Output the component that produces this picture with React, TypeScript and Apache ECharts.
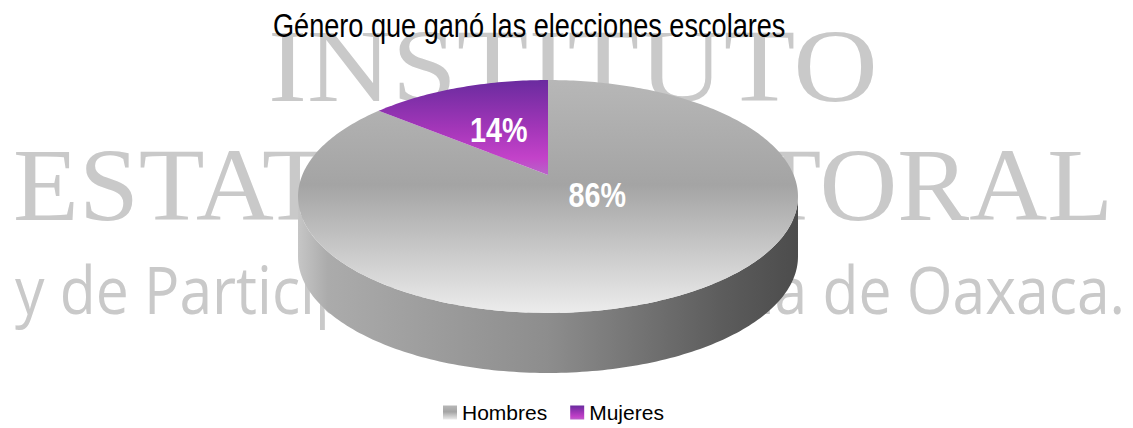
import React, { useEffect, useRef } from 'react';
import * as echarts from 'echarts';

// ---- data ----
const categories = ['Hombres', 'Mujeres'];
const values = [86, 14];
const titleText = 'Género que ganó las elecciones escolares';
const watermarkLines = ['INSTITUTO', 'ESTATAL ELECTORAL', 'y de Participación Ciudadana de Oaxaca.'];

// ---- layout / style constants ----
const SANS = '"Liberation Sans", Arial, sans-serif';
const CX = 548; // pie centre x
const CY = 175; // projected centre (tip) y
const R = 245.7; // horizontal radius
const B = 112.5; // vertical radius factor
const P = -0.1845; // perspective factor
const H = 60; // thickness
const NARROW_SCALE = 0.82;

const topFills = [
  [
    [0, '#b7b7b7'],
    [0.45, '#a4a4a4'],
    [1, '#ececec'],
  ],
  [
    [0, '#6a2b9f'],
    [0.5, '#a236b8'],
    [0.82, '#c342c9'],
    [1, '#b865c8'],
  ],
];
const sideStops = [
  [0, '#c6c6c6'],
  [0.06, '#ababab'],
  [0.5, '#8d8d8d'],
  [0.85, '#5c5c5c'],
  [1, '#4c4c4c'],
];

function grad(stops: any[], horizontal = false) {
  return new echarts.graphic.LinearGradient(
    0,
    0,
    horizontal ? 1 : 0,
    horizontal ? 0 : 1,
    stops.map((s) => ({ offset: s[0], color: s[1] }))
  );
}

function proj(deg: number, f = 1): number[] {
  const t = (deg * Math.PI) / 180;
  const u = Math.sin(t) * f;
  const v = -Math.cos(t) * f;
  const d = 1 + P * v;
  return [CX + (R * u) / d, CY + (B * v) / d];
}

function arc(a0: number, a1: number): number[][] {
  const pts: number[][] = [];
  const n = Math.max(2, Math.ceil(Math.abs(a1 - a0)));
  for (let i = 0; i <= n; i++) pts.push(proj(a0 + ((a1 - a0) * i) / n));
  return pts;
}

function fitScale(text: string, font: string, target: number) {
  const ctx = document.createElement('canvas').getContext('2d');
  if (!ctx) return 1;
  ctx.font = font;
  const w = ctx.measureText(text).width;
  return w > 0 ? target / w : 1;
}

export default function App() {
  const ref = useRef<HTMLDivElement>(null);

  useEffect(() => {
    if (!ref.current) return;
    const chart = echarts.init(ref.current, undefined, { renderer: 'svg' });
    const total = values.reduce((a, b) => a + b, 0);
    const starts: number[] = [];
    let acc = 0;
    values.forEach((v) => {
      starts.push(acc);
      acc += v;
    });

    const visA = (Math.acos(P) * 180) / Math.PI;
    const visB = 360 - visA;

    const wmSerif = '104px "Liberation Serif", "Times New Roman", serif';
    const wmSans = '65px "Open Sans", "Noto Sans", sans-serif';
    const wm = [
      { text: watermarkLines[0], font: wmSerif, x: 268, y: 66, w: 610 },
      { text: watermarkLines[1], font: wmSerif, x: 13, y: 185, w: 1104 },
      { text: watermarkLines[2], font: wmSans, x: 15, y: 289, w: 1110 },
    ];
    const titleFont = '33px ' + SANS;

    const series = categories.map((name, i) => ({
      type: 'custom',
      name,
      coordinateSystem: 'none',
      z: 2,
      itemStyle: { color: grad(topFills[i]) },
      data: [[values[i]]],
      renderItem: (params: any, api: any) => {
        const val = api.value(0);
        const a0 = (starts[i] / total) * 360;
        const a1 = a0 + (val / total) * 360;
        const children: any[] = [];
        const s0 = Math.max(a0, visA);
        const s1 = Math.min(a1, visB);
        if (s1 > s0) {
          const top = arc(s0, s1);
          const bottom = top.map((p) => [p[0], p[1] + H]).reverse();
          children.push({
            type: 'polygon',
            z2: 1,
            shape: { points: top.concat(bottom) },
            style: { fill: grad(sideStops, true) },
          });
        }
        children.push({
          type: 'polygon',
          z2: 5,
          shape: { points: [[CX, CY]].concat(arc(a0, a1)) },
          style: { fill: grad(topFills[i]) },
        });
        const mid = ((a0 + a1) / 2) * (Math.PI / 180);
        const lx = CX + 0.47 * R * Math.sin(mid);
        const ly = CY - 12.5 + 0.32 * B * -Math.cos(mid);
        children.push({
          type: 'text',
          z2: 10,
          x: lx,
          y: ly,
          scaleX: NARROW_SCALE,
          style: {
            text: Math.round((val / total) * 100) + '%',
            fill: '#ffffff',
            font: 'bold 35px ' + SANS,
            align: 'center',
            verticalAlign: 'middle',
          },
        });
        return { type: 'group', children };
      },
    }));

    chart.setOption({
      animation: false,
      backgroundColor: '#ffffff',
      legend: {
        data: categories,
        left: 443,
        top: 402,
        padding: 0,
        icon: 'rect',
        itemWidth: 14,
        itemHeight: 14,
        itemGap: 23,
        textStyle: { fontFamily: SANS, fontSize: 21, color: '#000000' },
      },
      graphic: [
        ...wm.map((l) => ({
          type: 'text',
          z: 0,
          x: l.x,
          y: l.y,
          scaleX: fitScale(l.text, l.font, l.w),
          silent: true,
          style: {
            text: l.text,
            font: l.font,
            fill: '#c9c9c9',
            align: 'left',
            verticalAlign: 'middle',
          },
        })),
        {
          type: 'text',
          z: 20,
          x: 273,
          y: 26,
          scaleX: fitScale(titleText, titleFont, 513),
          silent: true,
          style: {
            text: titleText,
            font: titleFont,
            fill: '#000000',
            align: 'left',
            verticalAlign: 'middle',
          },
        },
      ],
      series,
    });

    return () => chart.dispose();
  }, []);

  return (
    <div
      ref={ref}
      style={{ position: 'fixed', left: 0, top: 0, width: 1133, height: 428, background: '#fff' }}
    />
  );
}
